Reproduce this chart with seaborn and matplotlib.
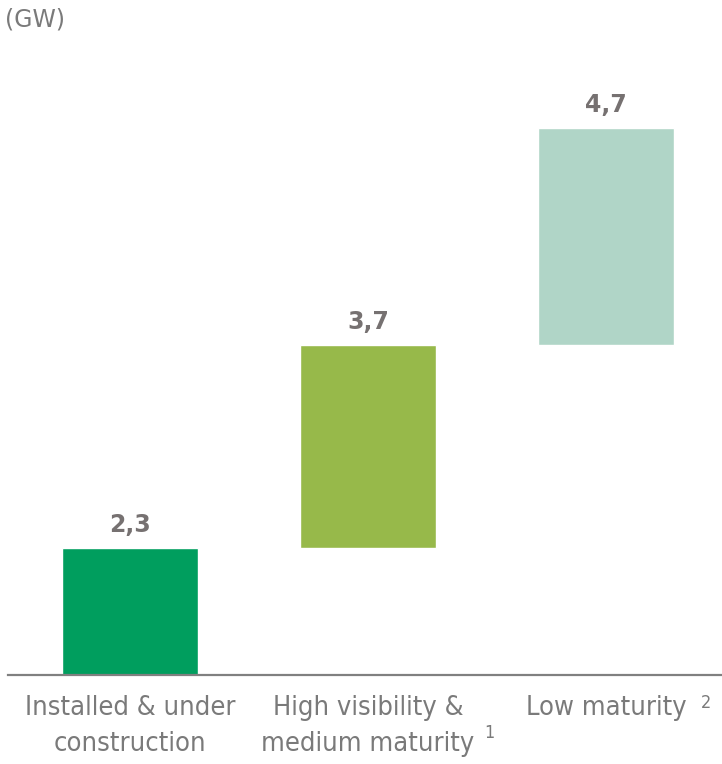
import numpy as np
import matplotlib.pyplot as plt
import seaborn as sns
import pandas as pd

# categories and floating bar extents (chart is not drawn to scale)
categories = ["Installed & under\nconstruction", "High visibility &\nmedium maturity", "Low maturity"]
superscripts = ["", "1", "2"]
bar_bottom = [0.0, 1.27, 3.30]
bar_top = [1.27, 3.30, 5.47]
value_labels = ["2,3", "3,7", "4,7"]
colors = ["#009E5E", "#97B94A", "#B0D5C7"]

sns.set_style("white")
plt.rcParams['font.family'] = ['DejaVu Sans']

df = pd.DataFrame({"cat": categories,
                   "height": np.array(bar_top) - np.array(bar_bottom)})

fig = plt.figure(figsize=(7.22, 7.64), dpi=100)
ax = fig.add_axes([8 / 722, 89 / 764, 1 - 8 / 722, 615 / 764])

sns.barplot(data=df, x="cat", y="height", hue="cat", palette=colors,
            width=0.57, legend=False, ax=ax, saturation=1)

# move the bars up so they float
for patch, b in zip(ax.patches, bar_bottom):
    patch.set_y(b)

grey = "#767171"
for i, (top, lab) in enumerate(zip(bar_top, value_labels)):
    ax.annotate(lab, (i, top), xytext=(0, 11.5), textcoords="offset points",
                ha="center", va="baseline", fontsize=17, fontweight="bold",
                color=grey)

ax.set_xlim(-0.513, 2.487)
ax.set_ylim(0, 6.15)
ax.set_xticks([])
ax.set_yticks([])
ax.set_xlabel("")
ax.set_ylabel("")
for s in ["top", "left", "right"]:
    ax.spines[s].set_visible(False)
ax.spines["bottom"].set_color("#808080")
ax.spines["bottom"].set_linewidth(1.6)

# category labels with footnote markers
lab_grey = "#7a7a7a"
lab_kw = dict(ha="center", va="top", fontsize=19.5, color=lab_grey,
              fontstretch="condensed", linespacing=1.5)
ax.text(0, -0.20, categories[0], **lab_kw)
ax.text(1, -0.20, categories[1], **lab_kw)
ax.text(2, -0.20, categories[2], **lab_kw)
ax.text(1.51, -0.58, superscripts[1], ha="center", va="center",
        fontsize=13, color=lab_grey, fontstretch="condensed")
ax.text(2.42, -0.28, superscripts[2], ha="center", va="center",
        fontsize=13, color=lab_grey, fontstretch="condensed")

fig.text(5 / 722, 1 - 20 / 764, "(GW)", ha="left", va="center",
         fontsize=17, color=lab_grey)

fig.savefig("out.png", dpi=100)
